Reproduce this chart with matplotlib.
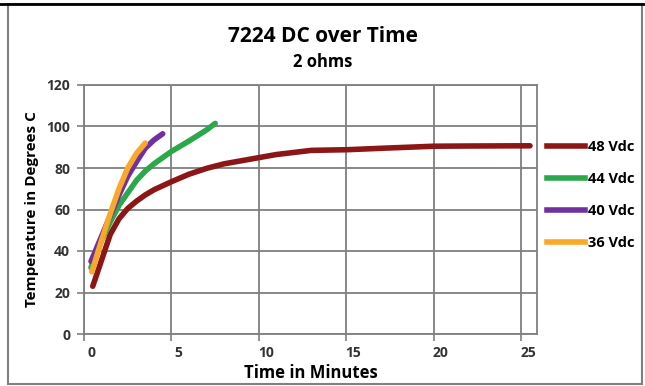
import matplotlib
matplotlib.use('Agg')
import matplotlib.pyplot as plt
import matplotlib.transforms as mtransforms
from matplotlib.patches import Rectangle
from matplotlib.lines import Line2D

plt.rcParams['font.family'] = ['Open Sans', 'DejaVu Sans']

# readings (minutes, degrees C)
t48 = [0.5, 1.5, 2.0, 2.5, 3.0, 3.5, 4.0, 5, 6, 7, 8, 9, 10, 11, 12, 13, 15, 17, 20, 22, 25.5]
v48 = [23, 48, 55.5, 60.5, 64, 67, 69.5, 73.4, 77, 79.8, 82, 83.5, 85, 86.5, 87.5, 88.5, 88.8, 89.5,
       90.5, 90.6, 90.7]

t44 = [0.4, 1.0, 1.5, 2.0, 2.5, 3.0, 3.5, 4.0, 5.0, 6.0, 7.0, 7.5]
v44 = [32, 45, 54, 62, 68, 74, 78.5, 82, 88, 93, 98.3, 101.5]

t40 = [0.4, 1.0, 1.5, 2.0, 2.5, 3.0, 3.5, 4.0, 4.5]
v40 = [35, 47, 57, 67, 76, 83, 89.5, 93.5, 96.5]

t36 = [0.45, 1.0, 1.5, 2.0, 2.5, 3.0, 3.5]
v36 = [30, 45, 58, 70, 80, 87, 92]

labels = ['48 Vdc', '44 Vdc', '40 Vdc', '36 Vdc']
colors = ['#8c1515', '#2aa84a', '#7030a0', '#f9a82a']

fig = plt.figure(figsize=(6.45, 3.86), dpi=100)
ax = fig.add_axes([84 / 645, 1 - 334 / 386, (537 - 84) / 645, (334 - 85) / 386])

series = [(t48, v48), (t44, v44), (t40, v40), (t36, v36)]
for (t, v), lab, c in zip(series, labels, colors):
    ax.plot(t, v, color=c, lw=4, solid_capstyle='round', solid_joinstyle='round', label=lab)

ax.set_xlim(0, 25.9)
ax.set_ylim(0, 120)
ax.set_xticks([0, 5, 10, 15, 20, 25])
ax.set_yticks(range(0, 121, 20))
ax.grid(True, color='#7f7f7f', lw=1.3)
ax.set_axisbelow(True)
for s in ax.spines.values():
    s.set_color('#7f7f7f')
    s.set_linewidth(1.3)
ax.tick_params(direction='out', length=5, color='#7f7f7f', width=1.2,
               labelsize=10, labelcolor='#333333')
ax.tick_params(axis='y', pad=5)
for lab in ax.get_xticklabels() + ax.get_yticklabels():
    lab.set_fontweight('bold')
off = mtransforms.ScaledTranslation(7 / 100, 0, fig.dpi_scale_trans)
for lab in ax.get_xticklabels():
    lab.set_transform(lab.get_transform() + off)

ax.set_xlabel('Time in Minutes', fontsize=12, fontweight='bold', labelpad=3)
ax.set_ylabel('Temperature in Degrees C', fontsize=11, fontweight='bold', labelpad=5)

fig.text(0.5, 1 - 36 / 386, '7224 DC over Time', ha='center', va='center',
         fontsize=15, fontweight='bold')
fig.text(0.5, 1 - 62 / 386, '2 ohms', ha='center', va='center',
         fontsize=12, fontweight='bold')

handles = [Line2D([], [], color=c, lw=4) for c in colors]
fig.legend(handles, labels, loc='upper left', bbox_to_anchor=(534 / 645, 1 - 127 / 386),
           frameon=False, handlelength=2.6, handletextpad=0.2,
           labelspacing=1.23, prop={'weight': 'bold', 'size': 10.5})

# chart frame
fig.patches.append(Rectangle((8 / 645, 2 / 386), 634 / 645, 380 / 386, transform=fig.transFigure,
                             fill=False, edgecolor='#808080', lw=1.5))
fig.add_artist(Line2D([0, 1], [1 - 4 / 386, 1 - 4 / 386], transform=fig.transFigure,
                      color='black', lw=2))

fig.savefig('out.png', dpi=100)
